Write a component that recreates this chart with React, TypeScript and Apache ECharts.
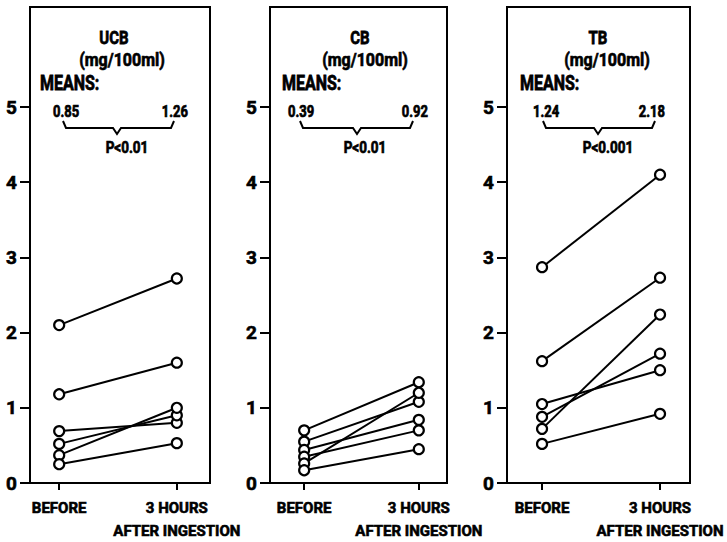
import React, { useEffect, useRef } from "react";
import * as echarts from "echarts";

// ---- data ----
const categories = ["BEFORE", "3 HOURS\nAFTER INGESTION"];
const yTicks = [0, 1, 2, 3, 4, 5];
const panelNames = ["UCB", "CB", "TB"];
const unitLabel = "(mg/100ml)";
const meansBefore = ["0.85", "0.39", "1.24"];
const meansAfter = ["1.26", "0.92", "2.18"];
const pValues = ["P<0.01", "P<0.01", "P<0.001"];

const ucbBefore = [2.1, 1.18, 0.69, 0.52, 0.37, 0.25];
const ucbAfter = [2.72, 1.6, 0.8, 0.9, 1.0, 0.53];
const cbBefore = [0.7, 0.55, 0.44, 0.35, 0.26, 0.17];
const cbAfter = [1.34, 1.08, 0.84, 0.7, 1.2, 0.45];
const tbBefore = [2.87, 1.62, 1.05, 0.88, 0.72, 0.52];
const tbAfter = [4.1, 2.73, 1.5, 1.72, 2.24, 0.92];

const panelBefore = [ucbBefore, cbBefore, tbBefore];
const panelAfter = [ucbAfter, cbAfter, tbAfter];

// ---- layout (pixels) ----
const boxLeft = [30, 270, 507];
const boxRight = [210, 447, 690];
const xMin = [-0.248, -0.298, -0.297];
const xMax = [1.282, 1.246, 1.254];
const titleDx = [84, 90, 91];
const unitDx = [92, 95, 100];
const meansDx = [10, 12, 13];
const mLeftDx = [23, 18, 26];
const mRightDx = [158, 158, 158];
const braceL = [33, 30, 36];
const braceP = [87, 87, 91];
const braceR = [144, 143, 148];
const pDx = [97, 95, 101];

const FONT = "Roboto, 'Liberation Sans', sans-serif";
const BOLDER = { textBorderColor: "#000", textBorderWidth: 0.6 };

export default function App() {
  const ref = useRef<HTMLDivElement>(null);
  useEffect(() => {
    if (!ref.current) return;
    const chart = echarts.init(ref.current, null, { renderer: "svg" });

    const grids: any[] = [];
    const xAxes: any[] = [];
    const yAxes: any[] = [];
    const series: any[] = [];
    const graphics: any[] = [];

    for (let p = 0; p < 3; p++) {
      grids.push({
        left: boxLeft[p],
        width: boxRight[p] - boxLeft[p],
        top: 7,
        bottom: 59,
        show: true,
        borderColor: "#000",
        borderWidth: 2,
        backgroundColor: "transparent",
      });
      xAxes.push({
        type: "value",
        gridIndex: p,
        min: xMin[p],
        max: xMax[p],
        axisLine: { show: true, onZero: false, lineStyle: { color: "#000", width: 2 } },
        axisTick: { show: true, customValues: [0, 1], length: 7, lineStyle: { color: "#000", width: 2 } },
        axisLabel: {
          customValues: [0, 1],
          formatter: (v: number) => categories[Math.round(v)],
          color: "#000",
          fontFamily: FONT,
          fontWeight: "bold",
          fontSize: 15,
          lineHeight: 23,
          margin: 13,
          ...BOLDER,
        },
        splitLine: { show: false },
      });
      yAxes.push({
        type: "value",
        gridIndex: p,
        min: 0,
        max: 6.33,
        axisLine: { show: true, onZero: false, lineStyle: { color: "#000", width: 2 } },
        axisTick: { show: true, customValues: yTicks, length: 10, lineStyle: { color: "#000", width: 2 } },
        axisLabel: {
          customValues: yTicks,
          color: "#000",
          fontFamily: FONT,
          fontWeight: "bold",
          fontSize: 19,
          margin: 13,
          ...BOLDER,
        },
        splitLine: { show: false },
      });
      const b = panelBefore[p];
      const a = panelAfter[p];
      for (let i = 0; i < b.length; i++) {
        series.push({
          type: "line",
          xAxisIndex: p,
          yAxisIndex: p,
          data: [
            [0, b[i]],
            [1, a[i]],
          ],
          symbol: "circle",
          symbolSize: 10,
          showSymbol: true,
          lineStyle: { color: "#000", width: 2 },
          itemStyle: { color: "#fff", borderColor: "#000", borderWidth: 2.2 },
          z: 3,
        });
      }

      const L = boxLeft[p];
      const txt = (x: number, y: number, text: string, size: number, align: string, sy: number) => ({
        type: "text",
        x,
        y,
        scaleY: sy,
        style: {
          text,
          fill: "#000",
          stroke: "#000",
          lineWidth: 0.6,
          fontFamily: FONT,
          fontWeight: "bold",
          fontSize: size,
          align,
          verticalAlign: "middle",
        },
      });
      graphics.push(
        txt(L + titleDx[p], 37, panelNames[p], 15, "center", 1.25),
        txt(L + unitDx[p], 60, unitLabel, 16, "center", 1.1),
        txt(L + meansDx[p], 83, "MEANS:", 16, "left", 1.3),
        txt(L + mLeftDx[p], 112, meansBefore[p], 13, "left", 1.2),
        txt(L + mRightDx[p], 112, meansAfter[p], 13, "right", 1.2),
        txt(L + pDx[p], 148, pValues[p], 13.5, "center", 1.2),
        {
          type: "polyline",
          shape: {
            points: [
              [L + braceL[p], 121],
              [L + braceL[p] + 3, 128],
              [L + braceP[p] - 4, 128],
              [L + braceP[p], 134],
              [L + braceP[p] + 4, 128],
              [L + braceR[p] - 3, 128],
              [L + braceR[p], 121],
            ],
          },
          style: { stroke: "#000", lineWidth: 2, fill: "none" },
        }
      );
    }

    chart.setOption({
      animation: false,
      backgroundColor: "#fff",
      grid: grids,
      xAxis: xAxes,
      yAxis: yAxes,
      series,
      graphic: graphics,
    });
    return () => chart.dispose();
  }, []);
  return <div ref={ref} style={{ width: 727, height: 542, position: "absolute", left: 0, top: 0 }} />;
}
